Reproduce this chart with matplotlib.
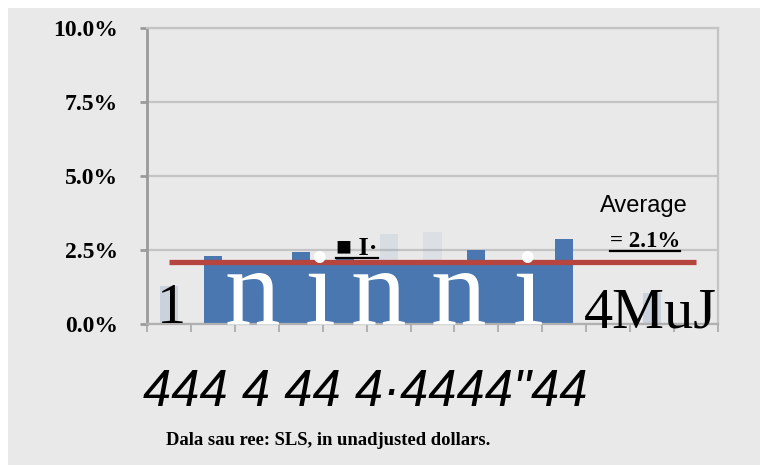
import matplotlib
matplotlib.use('Agg')
import matplotlib.pyplot as plt
import numpy as np
from matplotlib.lines import Line2D
from matplotlib.patches import Rectangle

# 13 slots along the x axis, no tick labels in the picture
slots = list(range(13))
values = [1.3, 2.3, 2.0, 2.43, 2.2, 3.05, 3.1, 2.5, 2.0, 2.87, 0.0, 1.05, 0.0]
faint = {0: 0.2, 5: 0.1, 6: 0.08, 11: 0.2}   # washed out bars -> alpha
average = 2.1
yticks = [0.0, 2.5, 5.0, 7.5, 10.0]
ytick_labels = ['0.0%', '2.5%', '5.0%', '7.5%', '10.0%']

# garbled text left on the picture
white_letters = ['n', 'i', 'n', 'n', 'i']
big_digits = '444 4 44 4\u00b74444"44'
source = 'Dala sau ree: SLS, in unadjusted dollars.'

W, H = 765, 466
BAR = '#4a77b0'
RED = '#b6443f'
BG = '#e9e9e9'
GRID = '#c4c4c4'
SERIF = ['Liberation Serif', 'DejaVu Serif']


def fx(x):
    return x / W


def fy(y):
    return 1 - y / H


fig = plt.figure(figsize=(W / 100, H / 100), dpi=100, facecolor='white')
fig.patches.append(Rectangle((fx(8), fy(465)), fx(760) - fx(8), fy(8) - fy(465),
                             transform=fig.transFigure, facecolor=BG,
                             edgecolor='none', zorder=-5))

ax = fig.add_axes([fx(147), fy(324), fx(718) - fx(147), fy(28) - fy(324)])
ax.set_facecolor(BG)
ax.patch.set_alpha(0)

# bars
for i, v in zip(slots, values):
    ax.bar(i, v, width=0.41, color=BAR, alpha=faint.get(i, 1.0), zorder=2)

# smeared blue block under the average line
ax.fill_between([slots[1] - 0.205, slots[9] + 0.205], 0, average,
                color=BAR, zorder=2, lw=0)

# average line
ax.plot([slots[0], slots[-1]], [average, average], color=RED, lw=3.8,
        zorder=4, solid_capstyle='butt')

ax.set_xlim(-0.5, len(slots) - 0.5)
ax.set_ylim(0, 10)
ax.set_yticks(yticks)
ax.set_yticklabels(ytick_labels, family=SERIF, weight='bold', fontsize=17)
ax.set_xticks(np.arange(-0.5, len(slots), 1.0))
ax.set_xticklabels([])
ax.yaxis.grid(True, color=GRID, lw=1.6, zorder=1)
ax.set_axisbelow(True)
ax.tick_params(axis='y', length=5, width=2, color='#9a9a9a', pad=16)
ax.tick_params(axis='x', length=6, width=1.2, color='#a8a8a8')
ax.spines['left'].set_color('#9a9a9a')
ax.spines['left'].set_linewidth(2)
ax.spines['bottom'].set_color('#b0b0b0')
ax.spines['bottom'].set_linewidth(1.6)
ax.spines['right'].set_color(GRID)
ax.spines['right'].set_linewidth(1.6)
ax.spines['top'].set_color(GRID)
ax.spines['top'].set_linewidth(1.6)

# big white letters over the bars
for ch, x in zip(white_letters, [252, 320, 378, 458, 528]):
    fig.text(fx(x), fy(324), ch, color='white', family=SERIF, fontsize=80,
             ha='center', va='baseline', zorder=10)

fig.text(fx(157), fy(323), '1', color='black', family=SERIF, fontsize=42,
         ha='left', va='baseline', zorder=10)
fig.text(fx(584), fy(328), '4MuJ', color='black', family=SERIF, fontsize=42,
         ha='left', va='baseline', zorder=10)

t_sq = fig.text(fx(336), fy(255), '\u25a0 I\u00b7', color='black', family=SERIF,
                weight='bold', fontsize=19, ha='left', va='baseline', zorder=10)

fig.text(fx(600), fy(212), 'Average', color='black', family='Liberation Sans',
         fontsize=17, ha='left', va='baseline', zorder=10)
t_avg = fig.text(fx(610), fy(247), '= 2.1%', color='black', family=SERIF,
                 weight='bold', fontsize=16.5, ha='left', va='baseline', zorder=10)

fig.text(fx(143), fy(406), big_digits, color='black',
         family='Liberation Sans', style='italic',
         fontsize=36.5, ha='left', va='baseline', zorder=10)

fig.text(fx(166), fy(445), source, color='black', family=SERIF, weight='bold',
         fontsize=13.4, ha='left', va='baseline', zorder=10)

# underlines under two of the labels
fig.canvas.draw()
r = fig.canvas.get_renderer()
for t, dy in [(t_sq, 3), (t_avg, 4)]:
    bb = t.get_window_extent(r)
    y0 = t.get_position()[1] * H - dy
    fig.add_artist(Line2D([bb.x0 / W, bb.x1 / W], [y0 / H, y0 / H],
                          transform=fig.transFigure, color='black', lw=1.6,
                          zorder=10))

fig.savefig('out.png', dpi=100, facecolor='white')
